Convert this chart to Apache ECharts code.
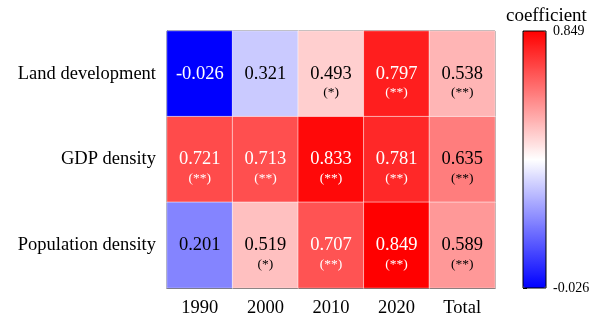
<!DOCTYPE html>
<html><head><meta charset="utf-8">
<script src="https://cdn.jsdelivr.net/npm/echarts@6/dist/echarts.min.js"></script>
<style>html,body{margin:0;padding:0;background:#fff}#c{width:606px;height:320px}</style>
</head><body><div id="c"></div>
<script>
const years = ['1990', '2000', '2010', '2020', 'Total'];
const factors = ['Land development', 'GDP density', 'Population density'];
const landValues = [-0.026, 0.321, 0.493, 0.797, 0.538];
const gdpValues = [0.721, 0.713, 0.833, 0.781, 0.635];
const popValues = [0.201, 0.519, 0.707, 0.849, 0.589];
const landSig = ['', '', '(*)', '(**)', '(**)'];
const gdpSig = ['(**)', '(**)', '(**)', '(**)', '(**)'];
const popSig = ['', '(*)', '(**)', '(**)', '(**)'];
const scaleMin = -0.026, scaleMax = 0.849;

const rows = [[landValues, landSig], [gdpValues, gdpSig], [popValues, popSig]];
const data = [];
rows.forEach((r, yi) => r[0].forEach((v, xi) => data.push({value: [xi, yi, v], sig: r[1][xi]})));

const FONT = '"Liberation Serif","Times New Roman",serif';
const chart = echarts.init(document.getElementById('c'));
chart.setOption({
  animation: false,
  textStyle: {fontFamily: FONT},
  title: {text: 'coefficient', left: 501, top: 2, textStyle: {fontFamily: FONT, fontSize: 19, fontWeight: 'normal', color: '#000'}},
  grid: [
    {left: 167, right: 111, top: 31, bottom: 32, show: true, borderColor: '#000', borderWidth: 1},
    {left: 523, width: 23, top: 31, bottom: 32, show: true, borderColor: '#000', borderWidth: 1, backgroundColor: 'transparent', z: 10}
  ],
  xAxis: [
    {type: 'category', data: years, gridIndex: 0,
     axisLine: {lineStyle: {color: '#000'}}, axisTick: {alignWithLabel: true, length: 5, lineStyle: {color: '#000'}},
     axisLabel: {color: '#000', fontSize: 18.5, fontFamily: FONT, margin: 11}, splitArea: {show: false}},
    {type: 'value', gridIndex: 1, show: false}
  ],
  yAxis: [
    {type: 'category', data: factors, gridIndex: 0, inverse: true,
     axisLine: {lineStyle: {color: '#000'}}, axisTick: {alignWithLabel: true, length: 5, lineStyle: {color: '#000'}},
     axisLabel: {color: '#000', fontSize: 18.5, fontFamily: FONT, margin: 11}},
    {type: 'value', gridIndex: 1, position: 'right', min: scaleMin, max: scaleMax,
     axisLine: {show: false}, splitLine: {show: false},
     axisTick: {show: true, length: 4, lineStyle: {color: '#000'}, customValues: [scaleMin, scaleMax]},
     axisLabel: {color: '#000', fontSize: 14, fontFamily: FONT, margin: 7, customValues: [scaleMin, scaleMax],
                 formatter: v => v.toFixed(3)}}
  ],
  visualMap: {
    type: 'continuous', min: scaleMin, max: scaleMax, seriesIndex: 0,
    left: 523, top: 31, itemWidth: 23, itemHeight: 257, padding: 0,
    calculable: false, text: null, showLabel: false,
    inRange: {color: ['#0000ff', '#ffffff', '#ff0000']}
  },
  series: [{
    type: 'heatmap', xAxisIndex: 0, yAxisIndex: 0, data: data,
    itemStyle: {borderColor: 'rgba(255,255,255,0.55)', borderWidth: 1},
    label: {
      show: true,
      formatter: p => {
        const v = p.value[2];
        const light = (v > 0.68 || v < 0.1);
        const vs = light ? 'vw' : 'vb';
        const ss = light ? 'sw' : 'sb';
        return '{sp|}\n{' + vs + '|' + v.toFixed(3) + '}\n{' + ss + '|' + (p.data.sig || '') + '}';
      },
      rich: {
        sp: {fontSize: 13.5, lineHeight: 18},
        vw: {fontSize: 18.5, lineHeight: 20, color: '#fff', fontFamily: FONT},
        vb: {fontSize: 18.5, lineHeight: 20, color: '#000', fontFamily: FONT},
        sw: {fontSize: 13.5, lineHeight: 18, color: '#fff', fontFamily: FONT},
        sb: {fontSize: 13.5, lineHeight: 18, color: '#000', fontFamily: FONT}
      }
    }
  }]
});
</script></body></html>
